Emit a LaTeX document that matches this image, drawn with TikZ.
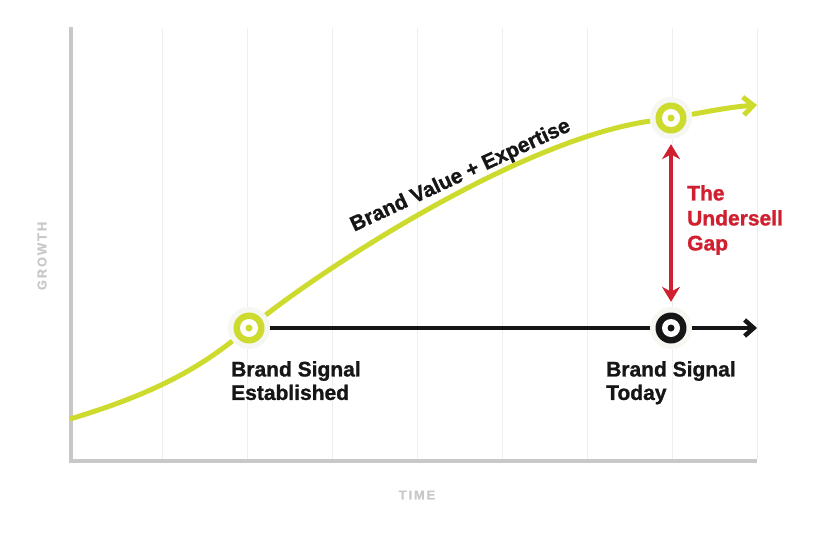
\documentclass[tikz,border=0pt]{standalone}
\usepackage{fontspec}
\setmainfont{Liberation Sans}[BoldFeatures={FakeBold=1.2}]
\newfontfamily\axisfont[LetterSpace=14,BoldFeatures={FakeBold=0.6}]{Liberation Sans}
\usetikzlibrary{arrows.meta}
\definecolor{lime}{HTML}{CDDB2E}
\definecolor{gapred}{HTML}{D0202F}
\definecolor{ink}{HTML}{161616}
\definecolor{axisgray}{HTML}{C8C8C8}
\definecolor{gridgray}{HTML}{EEEEEE}
\definecolor{halo}{HTML}{F6F6F2}
\begin{document}
\begin{tikzpicture}[x=1pt,y=-1pt,
    marker/.style={circle,fill=halo,minimum size=42pt,inner sep=0pt,
      path picture={
        \fill[#1] (path picture bounding box.center) circle (15.5pt);
        \fill[white] (path picture bounding box.center) circle (9pt);
        \fill[#1] (path picture bounding box.center) circle (3.5pt);}},
    caption/.style={align=left,anchor=north west,inner sep=0pt,text=ink,
      font=\fontsize{21}{23.5}\selectfont\bfseries},
    axislabel/.style={text=axisgray,inner sep=0pt,
      font=\fontsize{13}{15}\selectfont\axisfont\bfseries}]
  \useasboundingbox (0,0) rectangle (821,541);
  \foreach \x in {162,247,...,757}
    \draw [gridgray,line width=0.8pt] (\x,28) -- (\x,459);
  \coordinate (ytop) at (71,27);
  \coordinate (origin) at (71,461);
  \coordinate (xend) at (757,461);
  \draw [axisgray,line width=4.5pt] (ytop) -- (origin) -- (xend);
  \node [axislabel,rotate=90] (growth) at (42,256) {GROWTH};
  \node [axislabel] (time) at (417,495) {TIME};

  \node [marker=lime] (established) at (249,328) {};
  \node [marker=lime] (peak) at (671,118) {};
  \node [marker=ink] (today) at (671,328) {};
  \coordinate (start) at (70,419);
  \coordinate (curveend) at (757,105);
  \coordinate (lineend) at (757,328);

  \draw [lime,line width=5pt,-{Straight Barb[length=10pt,width=18pt]}]
    (start) .. controls (150,395) and (194,371) .. (established)
    .. controls (330,265) and (520,140) .. (peak)
    .. controls (705,112) and (730,107) .. (curveend);
  \draw [ink,line width=4.5pt] (established) -- (today);
  \draw [ink,line width=4.5pt,-{Straight Barb[length=9pt,width=16pt]}] (today) -- (lineend);
  \draw [gapred,line width=4pt,{Stealth[length=15pt,width=18pt]}-{Stealth[length=15pt,width=18pt]},
    shorten <=5pt,shorten >=5pt] (peak) -- (today);

  \node [caption] (estlabel) at (231,361) {Brand Signal\\Established};
  \node [caption] (todaylabel) at (606,361) {Brand Signal\\Today};
  \node [caption,text=gapred,font=\fontsize{21}{25}\selectfont\bfseries] (gaplabel) at (687,185) {The\\Undersell\\Gap};
  \node [anchor=base,inner sep=0pt,rotate=25,text=ink,font=\fontsize{21}{24}\selectfont\bfseries]
    (curvelabel) at (463,181) {Brand Value + Expertise};
\end{tikzpicture}
\end{document}
